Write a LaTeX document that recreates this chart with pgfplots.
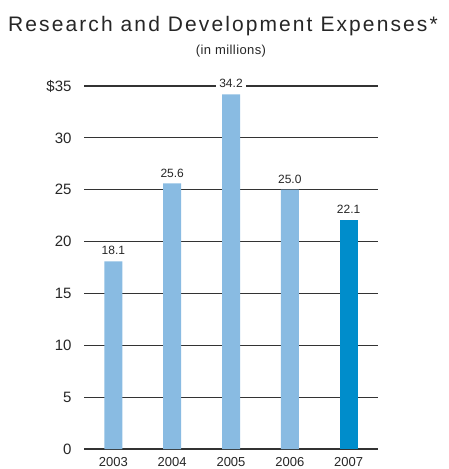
\documentclass[border=0pt]{standalone}
\usepackage{fontspec}
\setmainfont{Liberation Sans}
\usepackage{pgfplots}
\pgfplotsset{compat=1.18}
\definecolor{barlight}{HTML}{89BBE2}
\definecolor{bardark}{HTML}{008DCB}
\definecolor{gridc}{HTML}{333333}
\definecolor{txt}{HTML}{262626}
\begin{document}
\begin{tikzpicture}[x=1pt,y=1pt]
\path[use as bounding box] (0,0) rectangle (449,469);
\node[anchor=base, text=txt, font=\fontsize{21}{21}\selectfont\addfontfeature{LetterSpace=10}] at (223,437) {Research and Development Expenses*};
\node[anchor=base, text=txt, font=\fontsize{13}{13}\selectfont\addfontfeature{LetterSpace=3}] at (231,414) {(in millions)};
\begin{axis}[
  at={(84pt,20pt)}, anchor=south west,
  scale only axis, width=294pt, height=363pt,
  xmin=-0.5, xmax=4.5, ymin=0, ymax=35,
  axis line style={draw=none},
  ymajorgrids, grid style={gridc, line width=1.1pt},
  ytick={0,5,...,35},
  yticklabels={0,5,10,15,20,25,30,\$35},
  xtick={0,1,2,3,4},
  xticklabels={2003,2004,2005,2006,2007},
  tick style={draw=none},
  yticklabel style={font=\fontsize{15}{15}\selectfont, text=txt, xshift=-9pt},
  xticklabel style={font=\fontsize{13}{13}\selectfont, text=txt, yshift=-2pt, inner sep=2pt},
  ybar, bar width=18pt, bar shift=0pt,
  nodes near coords,
  nodes near coords style={font=\fontsize{12}{12}\selectfont, text=txt, fill=white, inner sep=3pt, /pgf/number format/fixed, /pgf/number format/fixed zerofill, /pgf/number format/precision=1, /pgf/number format/assume math mode=true, yshift=3pt},
]
\addplot[fill=barlight, draw=none] coordinates {(0,18.1) (1,25.6) (2,34.2) (3,25.0)};
\addplot[fill=bardark, draw=none] coordinates {(4,22.1)};
\end{axis}
\end{tikzpicture}
\end{document}
